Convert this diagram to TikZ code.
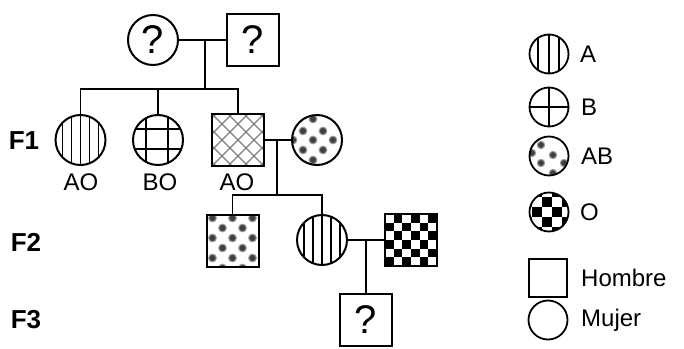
\documentclass[tikz,border=0pt]{standalone}
\usepackage{fontspec}
\setmainfont{Liberation Sans}
\begin{document}
\begin{tikzpicture}[x=1pt,y=-1pt,
  fem/.style={circle,draw,line width=2pt,minimum size=50pt,inner sep=0pt,outer sep=0pt},
  mal/.style={rectangle,draw,line width=2pt,minimum size=52pt,inner sep=0pt,outer sep=0pt},
  lfem/.style={circle,draw,line width=1.8pt,minimum size=39pt,inner sep=0pt,outer sep=0pt},
  lmal/.style={rectangle,draw,line width=1.8pt,minimum size=38pt,inner sep=0pt,outer sep=0pt},
  link/.style={line width=1.7pt},
  lbl/.style={font=\fontsize{24}{28}\selectfont,inner sep=0pt},
  gen/.style={font=\bfseries\fontsize{26}{30}\selectfont,inner sep=0pt},
  qm/.style={font=\fontsize{40}{44}\selectfont},
  patA/.style={path picture={\begin{scope}[shift={(path picture bounding box.center)}]
      \foreach \d in {-18,-9,0,9,18}{\draw[line width=1.8pt] (\d,-30) -- (\d,30);}
    \end{scope}}},
  patB/.style={path picture={\begin{scope}[shift={(path picture bounding box.center)}]
      \foreach \d in {-12,10}{\draw[line width=1.8pt] (\d,-30) -- (\d,30);}
      \foreach \d in {-11,9}{\draw[line width=1.8pt] (-30,\d) -- (30,\d);}
    \end{scope}}},
  patX/.style={path picture={\begin{scope}[shift={(path picture bounding box.center)}]
      \foreach \k in {-64,-48,...,64}{\draw[black!50,line width=1.2pt] (\k-30,-30) -- (\k+30,30);
        \draw[black!50,line width=1.2pt] (\k-30,30) -- (\k+30,-30);}
    \end{scope}}},
  dotc/.style={fill=black!75,draw=black!40,line width=1.1pt},
  patABc/.style={path picture={\begin{scope}[shift={(path picture bounding box.center)}]
      \foreach \p in {(-4,-21),(-14,-9),(6,-9),(-24,0),(-4,0),(16,0),(-14,10),(6,10),(-4,20)}{\filldraw[dotc] \p circle (3.8);}
    \end{scope}}},
  patABs/.style={path picture={\begin{scope}[shift={(path picture bounding box.center)}]
      \foreach \yy in {-23,-3,17}{\foreach \xx in {-20,0,20}{\filldraw[dotc] (\xx,\yy) circle (3.8);}}
      \foreach \yy in {-13,7,27}{\foreach \xx in {-10,10}{\filldraw[dotc] (\xx,\yy) circle (3.8);}}
    \end{scope}}},
  patO/.style={path picture={\begin{scope}[shift={(path picture bounding box.center)}]
      \foreach \i in {0,...,5}{\foreach \j in {0,...,5}{
        \pgfmathtruncatemacro\s{mod(\i+\j,2)}
        \ifnum\s=1 \fill[black] (-26+\i*8.667,-26+\j*8.667) rectangle ++(8.667,8.667);\fi}}
    \end{scope}}},
  lpatA/.style={path picture={\begin{scope}[shift={(path picture bounding box.center)}]
      \foreach \d in {-11,0,10}{\draw[line width=1.6pt] (\d,-25) -- (\d,25);}
    \end{scope}}},
  lpatB/.style={path picture={\begin{scope}[shift={(path picture bounding box.center)}]
      \draw[line width=1.6pt] (0,-25) -- (0,25) (-25,0) -- (25,0);
    \end{scope}}},
  lpatAB/.style={path picture={\begin{scope}[shift={(path picture bounding box.center)}]
      \foreach \p in {(-8,-11),(4,-1),(-8,7),(15,7),(4,17),(-17,-3)}{\filldraw[dotc] \p circle (3.6);}
    \end{scope}}},
  lpatO/.style={path picture={\begin{scope}[shift={(path picture bounding box.center)}]
      \foreach \i in {0,...,5}{\foreach \j in {0,...,5}{
        \pgfmathtruncatemacro\s{mod(\i+\j,2)}
        \ifnum\s=1 \fill[black] (-27.3+\i*10,-25.3+\j*10) rectangle ++(10,10);\fi}}
    \end{scope}}}
]
\useasboundingbox[fill=white] (0,0) rectangle (684,348);

% generation 0
\node[fem,qm] (p1) at (153,40) {?};
\node[mal,qm] (p2) at (253,40) {?};
\coordinate (m1) at (205,40);
\coordinate (s1) at (205,89);

% F1
\node[fem,patA] (c1) at (80.5,140) {};
\node[fem,patB] (c2) at (158,140) {};
\node[mal,patX] (c3) at (238,140) {};
\node[fem,patABc] (c4) at (317,140) {};
\coordinate (m2) at (277,140);
\coordinate (s2) at (277,195);

% F2
\node[mal,patABs] (d1) at (232.5,241) {};
\node[fem,patA] (d2) at (322,240) {};
\node[mal,patO] (d3) at (411,240) {};
\coordinate (m3) at (366,240);

% F3
\node[mal,qm] (e1) at (366,320) {?};

% connectors
\draw[link] (p1.east) -- (p2.west);
\draw[link] (m1) -- (s1);
\draw[link] (c1.north) |- (c3.north |- s1) -- (c3.north);
\draw[link] (c2.north) -- (c2.north |- s1);
\draw[link] (c3.east) -- (c4.west);
\draw[link] (m2) -- (s2);
\draw[link] (d1.north) |- (d2.north |- s2) -- (d2.north);
\draw[link] (d2.east) -- (d3.west);
\draw[link] (m3) -- (e1.north);

% genotype labels
\node[lbl] (g1) at (81,182) {AO};
\node[lbl] (g2) at (160,182) {BO};
\node[lbl] (g3) at (237,182) {AO};

% generation labels
\node[gen] (f1) at (24,141) {F1};
\node[gen] (f2) at (26,242) {F2};
\node[gen] (f3) at (26,320) {F3};

% legend
\node[lfem,lpatA] (la) at (549,54) {};
\node[lfem,lpatB] (lb) at (549,107) {};
\node[lfem,lpatAB] (lab) at (549,156) {};
\node[lfem,lpatO] (lo) at (549,212) {};
\node[lbl,anchor=west] (ta) at (580,54) {A};
\node[lbl,anchor=west] (tb) at (581,107) {B};
\node[lbl,anchor=west] (tab) at (581,156) {AB};
\node[lbl,anchor=west] (to) at (580,212) {O};
\node[lmal] (lh) at (548,278) {};
\node[lfem] (lm) at (548,320) {};
\node[lbl,anchor=west] (th) at (581,278) {Hombre};
\node[lbl,anchor=west] (tm) at (581,320) {Mujer};
\end{tikzpicture}
\end{document}
